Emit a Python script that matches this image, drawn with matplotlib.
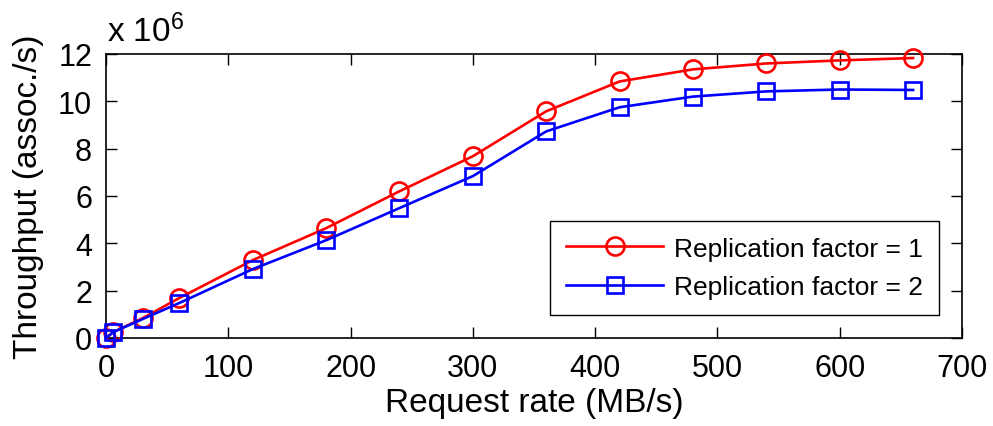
import matplotlib
matplotlib.use("Agg")
import matplotlib.pyplot as plt

plt.rcParams['font.family'] = ['Liberation Sans', 'DejaVu Sans']
plt.rcParams['mathtext.default'] = 'regular'

request_rate = [0, 6, 30, 60, 120, 180, 240, 300, 360, 420, 480, 540, 600, 660]
rf1 = [0.0, 0.25, 0.84, 1.69, 3.29, 4.64, 6.2, 7.68, 9.58, 10.84, 11.35, 11.6, 11.73, 11.83]
rf2 = [0.0, 0.25, 0.8, 1.48, 2.91, 4.13, 5.49, 6.84, 8.73, 9.75, 10.2, 10.42, 10.5, 10.48]
labels = ["Replication factor = 1", "Replication factor = 2"]
xticks = [0, 100, 200, 300, 400, 500, 600, 700]
yticks = [0, 2, 4, 6, 8, 10, 12]

fig = plt.figure(figsize=(9.93, 4.27), dpi=100)
ax = fig.add_axes([106/993, 88/427, 856/993, 284/427])

ax.plot(request_rate, rf1, color='#ff0000', lw=1.9, marker='o', ms=13,
        mfc='none', mew=1.9, label=labels[0], clip_on=False, zorder=3)
ax.plot(request_rate, rf2, color='#0000ff', lw=1.9, marker='s', ms=11,
        mfc='none', mew=1.9, label=labels[1], clip_on=False, zorder=4)

ax.set_xlim(0, 700)
ax.set_ylim(0, 12)
ax.set_xticks(xticks)
ax.set_yticks(yticks)
ax.tick_params(direction='in', length=8, width=1, top=True, right=True,
               labelsize=22)
ax.tick_params(axis='x', pad=11)
ax.tick_params(axis='y', pad=10)
for s in ax.spines.values():
    s.set_linewidth(1.2)
ax.set_xlabel("Request rate (MB/s)", fontsize=24, labelpad=3)
ax.set_ylabel("Throughput (assoc./s)", fontsize=24, labelpad=10)
ax.text(0.001, 1.046, r"x 10$^{6}$", transform=ax.transAxes, fontsize=24,
        ha='left', va='baseline')

leg = ax.legend(loc='lower right', bbox_to_anchor=(0.973, 0.081),
                borderaxespad=0, fontsize=19, fancybox=False,
                edgecolor='black', framealpha=1, handlelength=3.7,
                handletextpad=0.4, borderpad=0.6, labelspacing=0.55)
leg.get_frame().set_linewidth(1.0)

fig.savefig("out.png", dpi=100)
